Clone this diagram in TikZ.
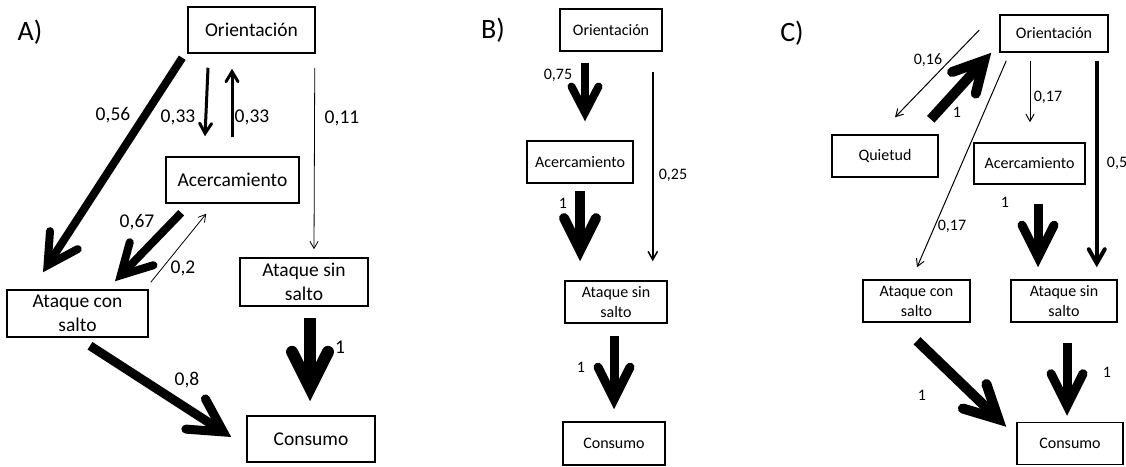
\documentclass[tikz,border=0pt]{standalone}
\usepackage{fontspec}
\setmainfont{Carlito}
\usetikzlibrary{arrows.meta,calc}
\begin{document}
\begin{tikzpicture}[x=1pt,y=-1pt,
 nbox/.style={draw, line width=1.5pt, inner sep=0pt, align=center},
 fA/.style={font=\fontsize{19.5}{24}\selectfont},
 fB/.style={font=\fontsize{16}{20}\selectfont},
 lbl/.style={inner sep=0pt},
 panel/.style={inner sep=0pt, font=\fontsize{28}{30}\selectfont},
 arr/.style args={#1/#2/#3}{line width=#1, -{Straight Barb[line cap=round, line join=miter, length=#2, width=#3]}},
]
\useasboundingbox (0,0) rectangle (1126,466);
\fill[white] (0,0) rectangle (1126,466);

% ---------------- Panel A ----------------
\node[panel] (pA) at (30,32) {A)};
\node[nbox,fA,minimum width=127pt,minimum height=46pt] (oA) at (251.5,30) {Orientación};
\node[nbox,fA,minimum width=133pt,minimum height=46pt] (aA) at (232.5,180) {Acercamiento};
\node[nbox,fA,minimum width=141pt,minimum height=47pt] (cA) at (77.5,313.5) {Ataque con\\salto};
\node[nbox,fA,minimum width=128pt,minimum height=48pt] (sA) at (304,282) {Ataque sin\\salto};
\node[nbox,fA,minimum width=128pt,minimum height=46pt] (mA) at (311,439) {Consumo};

\draw[arr=8pt/30pt/33pt] ($(oA.south west)+(-5,4)$) -- ($(cA.north)+(-34.5,-17)$);
\draw[arr=3pt/10pt/12pt] ($(oA.south)+(-43.5,14)$) -- ($(aA.north)+(-27.5,-20)$);
\draw[arr=3pt/10pt/12pt] ($(aA.north)+(-0.5,-19)$) -- ($(oA.south)+(-19.5,15)$);
\draw[arr=0.8pt/7pt/8pt] ($(oA.south east)+(-1,14)$) -- ($(sA.north)+(10,-8)$);
\draw[arr=8pt/30pt/33pt] ($(aA.south west)+(16,9)$) -- ($(cA.north)+(37.5,-8)$);
\draw[arr=0.8pt/7pt/8pt] ($(cA.north east)+(2,-7)$) -- ($(aA.south west)+(41,10)$);
\draw[arr=9pt/33pt/36pt] ($(cA.south)+(12.5,8)$) -- ($(mA.west)+(-15,-2)$);
\draw[arr=12pt/36pt/36pt] ($(sA.south)+(6,11)$) -- ($(mA.north)+(-1,-14)$);

\node[lbl,fA] (l1) at (113,115) {0,56};
\node[lbl,fA] (l2) at (178,117) {0,33};
\node[lbl,fA] (l3) at (252,117) {0,33};
\node[lbl,fA] (l4) at (342,118) {0,11};
\node[lbl,fA] (l5) at (137,222) {0,67};
\node[lbl,fA] (l6) at (183,268) {0,2};
\node[lbl,fA] (l7) at (187,380) {0,8};
\node[lbl,fA] (l8) at (340,347) {1};

% ---------------- Panel B ----------------
\node[panel] (pB) at (493,30) {B)};
\node[nbox,fB,minimum width=102pt,minimum height=42pt] (oB) at (611,30) {Orientación};
\node[nbox,fB,minimum width=106pt,minimum height=42pt] (aB) at (580,162) {Acercamiento};
\node[nbox,fB,minimum width=102pt,minimum height=42pt] (sB) at (616,302) {Ataque sin\\salto};
\node[nbox,fB,minimum width=102pt,minimum height=43pt] (mB) at (614,443.5) {Consumo};

\draw[arr=8pt/26pt/27pt] ($(oB.south)+(-26,11)$) -- ($(aB.north)+(5,-19)$);
\draw[arr=10pt/32pt/32pt] ($(aB.south)+(0,7)$) -- ($(sB.north)+(-36,-19)$);
\draw[arr=1.5pt/8pt/9pt] ($(oB.south east)+(-10,20)$) -- ($(sB.north east)+(-15,-19)$);
\draw[arr=9pt/32pt/32pt] ($(sB.south)+(-2,12)$) -- ($(mB.north)+(0,-12)$);

\node[lbl,fB] (m1) at (558,75) {0,75};
\node[lbl,fB] (m2) at (563,203) {1};
\node[lbl,fB] (m3) at (673,175) {0,25};
\node[lbl,fB] (m4) at (581,367) {1};

% ---------------- Panel C ----------------
\node[panel] (pC) at (792,33) {C)};
\node[nbox,fB,minimum width=108pt,minimum height=37pt] (oC) at (1054,33.5) {Orientación};
\node[nbox,fB,minimum width=106pt,minimum height=42pt] (qC) at (885,156) {Quietud};
\node[nbox,fB,minimum width=111pt,minimum height=41pt] (aC) at (1029.5,163.5) {Acercamiento};
\node[nbox,fB,minimum width=107pt,minimum height=42pt] (cC) at (916.5,301) {Ataque con\\salto};
\node[nbox,fB,minimum width=106pt,minimum height=42pt] (sC) at (1064,301) {Ataque sin\\salto};
\node[nbox,fB,minimum width=106pt,minimum height=42pt] (mC) at (1070,443.5) {Consumo};

\draw[arr=1pt/7pt/8pt] ($(oC.west)+(-20,-3.5)$) -- ($(qC.north)+(10,-17)$);
\draw[arr=10pt/30pt/32pt] ($(qC.north east)+(-8,-15)$) -- ($(oC.south west)+(-8,0)$);
\draw[arr=1pt/7pt/8pt] ($(oC.south west)+(7,8)$) -- ($(cC.north)+(0.5,-12)$);
\draw[arr=1pt/7pt/8pt] ($(oC.south)+(-24,8)$) -- ($(aC.north)+(0.5,-20)$);
\draw[arr=4pt/14pt/16pt] ($(oC.south east)+(-12,8)$) -- ($(sC.north east)+(-21,-12)$);
\draw[arr=9pt/32pt/32pt] ($(aC.south)+(8.5,19)$) -- ($(sC.north)+(-26,-12)$);
\draw[arr=10pt/33pt/34pt] ($(cC.south)+(0.5,18)$) -- ($(mC.north west)+(-10,5)$);
\draw[arr=9pt/32pt/32pt] ($(sC.south)+(3,20)$) -- ($(mC.north)+(-3,-6)$);

\node[lbl,fB] (n1) at (928,60) {0,16};
\node[lbl,fB] (n2) at (957,112) {1};
\node[lbl,fB] (n3) at (952,226) {0,17};
\node[lbl,fB] (n4) at (1048,97) {0,17};
\node[lbl,fB] (n5) at (1117,163) {0,5};
\node[lbl,fB] (n6) at (1005,202) {1};
\node[lbl,fB] (n7) at (922,395) {1};
\node[lbl,fB] (n8) at (1107,372) {1};
\end{tikzpicture}
\end{document}
